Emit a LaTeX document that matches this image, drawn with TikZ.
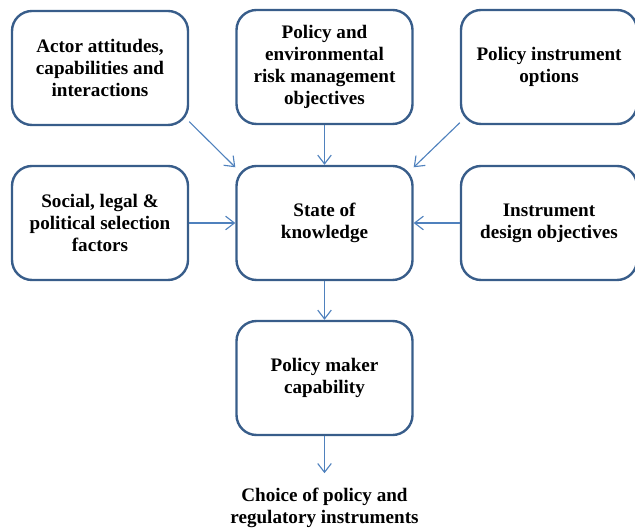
\documentclass[tikz,border=0pt]{standalone}
\usepackage{fontspec}
\setmainfont{Liberation Serif}
\usetikzlibrary{arrows,arrows.meta,positioning}
\usetikzlibrary{calc}

\definecolor{boxline}{RGB}{56,93,138}
\definecolor{linkline}{RGB}{79,129,189}

\begin{document}
\begin{tikzpicture}[
  box/.style={draw=boxline, line width=1.7pt, rounded corners=0.5cm,
    minimum width=4.4cm, minimum height=2.85cm, align=center, inner sep=2pt,
    font=\fontsize{13.6}{15.8}\selectfont\bfseries},
  link/.style={draw=linkline, line width=0.8pt, -{Straight Barb[length=2.2mm,width=3.4mm]}},
  label/.style={align=center, inner sep=0pt, font=\fontsize{13.6}{15.8}\selectfont\bfseries}]
\clip (0,0) rectangle (15.875,-13.2);

\node[box] (actor) at (2.5,-1.7) {Actor attitudes,\\capabilities and\\interactions};
\node[box] (objectives) at (8.1125,-1.675) {Policy and\\environmental\\risk management\\objectives};
\node[box] (options) at (13.725,-1.675) {Policy instrument\\options};
\node[box] (social) at (2.5,-5.575) {Social, legal \&\\political selection\\factors};
\node[box] (knowledge) at (8.1125,-5.575) {State of\\knowledge};
\node[box] (design) at (13.725,-5.575) {Instrument\\design objectives};
\node[box] (maker) at (8.1125,-9.45) {Policy maker\\capability};
\node[label, anchor=north] (choice) at (8.1125,-12.2) {Choice of policy and\\regulatory instruments};

\draw[link] (actor.-31) -- (knowledge.148);
\draw[link] (objectives.south) -- (knowledge.north);
\draw[link] (options.212) -- (knowledge.32);
\draw[link] (social.east) -- (knowledge.west);
\draw[link] (design.west) -- (knowledge.east);
\draw[link] (knowledge.south) -- (maker.north);
\draw[link] (maker.south) -- ($(choice.north)+(0,0.37)$);
\end{tikzpicture}
\end{document}
